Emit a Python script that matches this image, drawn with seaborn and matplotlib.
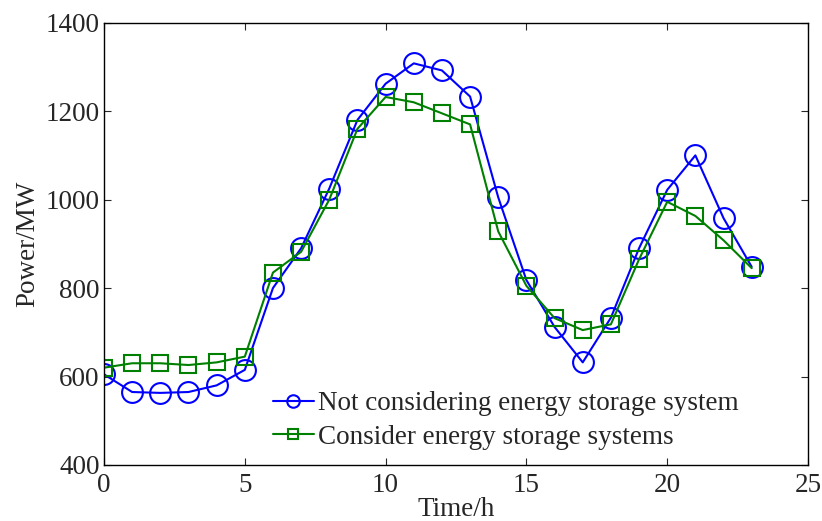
import numpy as np
import pandas as pd
import matplotlib
matplotlib.use("Agg")
import matplotlib.pyplot as plt
import seaborn as sns

# -------------------------
# DATA
# -------------------------
hours = list(range(24))
no_storage = [605, 565, 563, 565, 580, 615, 800, 890, 1025, 1180, 1262, 1308,
              1292, 1233, 1005, 818, 712, 632, 733, 890, 1022, 1100, 958, 848]
with_storage = [620, 630, 630, 626, 632, 645, 835, 882, 1000, 1160, 1232, 1220,
                1195, 1170, 928, 805, 732, 705, 718, 865, 995, 963, 908, 845]

label_no = "Not considering energy storage system"
label_with = "Consider energy storage systems"

# -------------------------
# STYLE
# -------------------------
sns.set_style("ticks")
plt.rcParams['font.family'] = ['Liberation Serif', 'DejaVu Serif']

fs = 19.5

fig = plt.figure(figsize=(8.22, 5.21), dpi=100)
ax = fig.add_axes([0.1265, 0.1075, 0.8565, 0.849])

sns.lineplot(x=hours, y=no_storage, ax=ax, color="#0000ff", lw=1.5,
             marker="o", markersize=15, markerfacecolor="none",
             markeredgecolor="#0000ff", markeredgewidth=1.5, label=label_no)
sns.lineplot(x=hours, y=with_storage, ax=ax, color="#008000", lw=1.5,
             marker="s", markersize=12, markerfacecolor="none",
             markeredgecolor="#008000", markeredgewidth=1.5, label=label_with)

ax.set_xlim(0, 25)
ax.set_ylim(400, 1400)
ax.set_xticks([0, 5, 10, 15, 20, 25])
ax.set_yticks([400, 600, 800, 1000, 1200, 1400])
ax.tick_params(direction="in", top=True, right=True, labelsize=fs, length=5,
               width=0.8, pad=3)
ax.tick_params(axis="x", pad=6)
for s in ax.spines.values():
    s.set_linewidth(1.0)
    s.set_color("black")

ax.set_xlabel("Time/h", fontsize=fs, labelpad=-1)
ax.set_ylabel("Power/MW", fontsize=fs, labelpad=4)

leg = ax.legend(loc="lower left", bbox_to_anchor=(0.24, 0.035), frameon=False,
                fontsize=fs, handlelength=1.5, handletextpad=0.15,
                labelspacing=0.3, borderaxespad=0, borderpad=0, markerscale=0.6)

fig.savefig("out.png", dpi=100)
